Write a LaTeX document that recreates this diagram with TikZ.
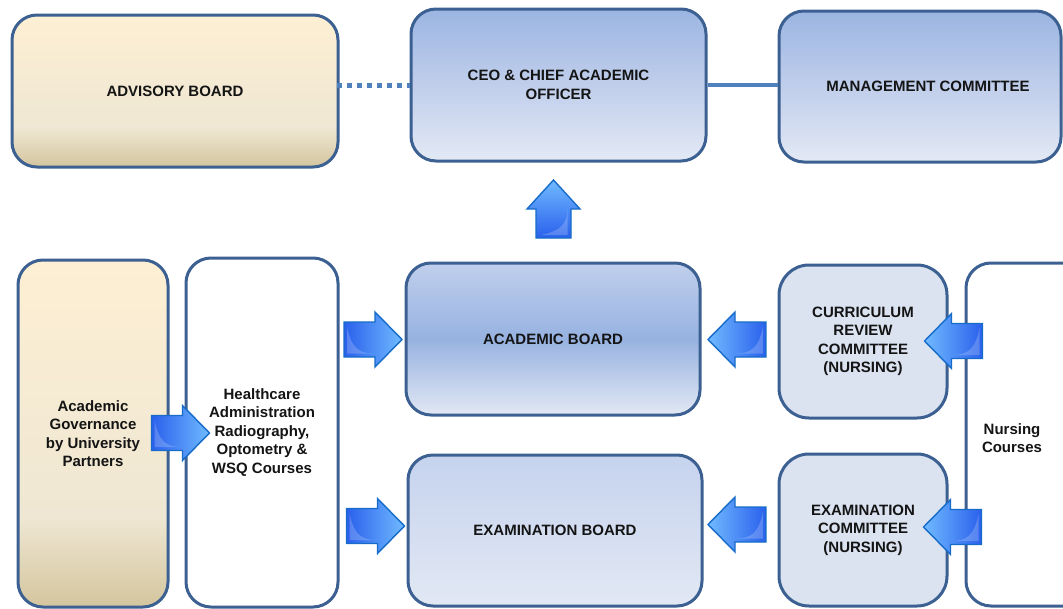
\documentclass[tikz,border=0pt]{standalone}
\usepackage{fontspec}
\setmainfont{Liberation Sans}
\usetikzlibrary{calc}
\definecolor{bordc}{RGB}{60,96,145}
\definecolor{linec}{RGB}{79,129,189}
\definecolor{creamtop}{RGB}{253,239,211}
\definecolor{creammid}{RGB}{239,231,211}
\definecolor{creambot}{RGB}{212,197,158}
\definecolor{bluetop}{RGB}{155,181,226}
\definecolor{bluemid}{RGB}{192,206,235}
\definecolor{bluebot}{RGB}{227,233,245}
\definecolor{acadtop}{RGB}{192,207,236}
\definecolor{acadmid}{RGB}{151,178,225}
\definecolor{acadbot}{RGB}{226,232,244}
\definecolor{examtop}{RGB}{198,211,238}
\definecolor{exambot}{RGB}{226,232,244}
\definecolor{commc}{RGB}{219,227,241}
\definecolor{adark}{RGB}{42,96,236}
\definecolor{alight}{RGB}{112,186,255}
\definecolor{aborder}{RGB}{22,108,200}
\definecolor{txt}{RGB}{20,20,20}
\pgfdeclareverticalshading{creamv}{100bp}{color(0bp)=(creambot); color(25bp)=(creambot); color(38bp)=(creammid); color(75bp)=(creamtop); color(100bp)=(creamtop)}
\tikzset{
  box/.style={draw=bordc, line width=3pt, rounded corners=25pt, align=center,
    text=txt, font=\bfseries\fontsize{15}{18.5}\selectfont, inner sep=0pt},
  cream/.style={shading=creamv},
  bluegrad/.style={top color=bluetop, bottom color=bluebot, middle color=bluemid},
  blockarrow/.style={draw=aborder, line width=1.4pt, line join=miter},
  hl/.style={fill=white, fill opacity=0.2, draw=none},
  lbl/.style={align=center, text=txt, font=\bfseries\fontsize{15}{18.5}\selectfont, inner sep=0pt}
}
\newcommand{\rarrowat}[2]{%
  \begin{scope}[shift={(#1,#2)}]
    \shadedraw[blockarrow, left color=adark, right color=alight]
      (-29,-17.5) -- (2,-17.5) -- (2,-27.5) -- (29,0) -- (2,27.5) -- (2,17.5) -- (-29,17.5) -- cycle;
    \path[hl] (-26,-13) .. controls (-22,8) and (-14,14) .. (0,14) -- (-26,14) -- cycle;
  \end{scope}}
\newcommand{\larrowat}[2]{%
  \begin{scope}[shift={(#1,#2)}]
    \shadedraw[blockarrow, left color=alight, right color=adark]
      (29,-17.5) -- (-2,-17.5) -- (-2,-27.5) -- (-29,0) -- (-2,27.5) -- (-2,17.5) -- (29,17.5) -- cycle;
    \path[hl] (26,-13) .. controls (22,8) and (14,14) .. (0,14) -- (26,14) -- cycle;
  \end{scope}}
\newcommand{\uarrowat}[2]{%
  \begin{scope}[shift={(#1,#2)}]
    \shadedraw[blockarrow, top color=alight, bottom color=adark]
      (-17.5,29) -- (-17.5,0) -- (-26.5,0) -- (0,-29) -- (26.5,0) -- (17.5,0) -- (17.5,29) -- cycle;
    \path[hl] (-13,26) .. controls (8,22) and (14,14) .. (14,0) -- (14,26) -- cycle;
  \end{scope}}
\begin{document}
\begin{tikzpicture}[x=1pt, y=-1pt]
\useasboundingbox (0,0) rectangle (1063,608);
% top row
\node[box, cream, minimum width=326pt, minimum height=152pt] (adv) at (175,91) {ADVISORY BOARD};
\node[box, bluegrad, minimum width=295pt, minimum height=152pt] (ceo) at (558.5,85) {CEO \& CHIEF ACADEMIC\\OFFICER};
\node[box, bluegrad, minimum width=282pt, minimum height=151pt] (mgmt) at (920,86.5) {\hspace*{16pt}MANAGEMENT COMMITTEE};
\draw[linec, line width=5pt, dash pattern=on 5pt off 5pt] ([xshift=-3pt]adv.east |- ceo.west) -- (ceo.west);
\draw[linec, line width=4.5pt] (ceo.east) -- (mgmt.west |- ceo.east);
% lower row
\node[box, cream, minimum width=150pt, minimum height=347pt] (gov) at (93,433.5) {Academic\\Governance\\by University\\Partners};
\node[box, fill=white, minimum width=152pt, minimum height=349pt] (health) at (262,432.5) {Healthcare\\Administration\\Radiography,\\Optometry \&\\WSQ Courses};
\node[box, top color=acadtop, bottom color=acadbot, middle color=acadmid, minimum width=294pt, minimum height=152pt] (acad) at (553,339) {ACADEMIC BOARD};
\node[box, top color=examtop, bottom color=exambot, minimum width=294pt, minimum height=151pt] (exam) at (555,530.5) {EXAMINATION BOARD};
\node[box, fill=commc, rounded corners=30pt, minimum width=168pt, minimum height=153pt] (curr) at (863,341.5) {CURRICULUM\\REVIEW\\COMMITTEE\\(NURSING)};
\node[box, fill=commc, rounded corners=30pt, minimum width=168pt, minimum height=152pt] (examc) at (863,530) {EXAMINATION\\COMMITTEE\\(NURSING)};
\node[box, fill=white, minimum width=150pt, minimum height=343pt] (nurs) at (1041,434.5) {};
\node[lbl] (nurstext) at (1012,438) {Nursing\\Courses};
% block arrows
\uarrowat{553.5}{209}
\rarrowat{180.5}{433}
\rarrowat{373}{339.5}
\rarrowat{375.5}{526}
\larrowat{737}{339.5}
\larrowat{737}{524.5}
\larrowat{953.5}{341}
\larrowat{952.5}{527}
\end{tikzpicture}
\end{document}
